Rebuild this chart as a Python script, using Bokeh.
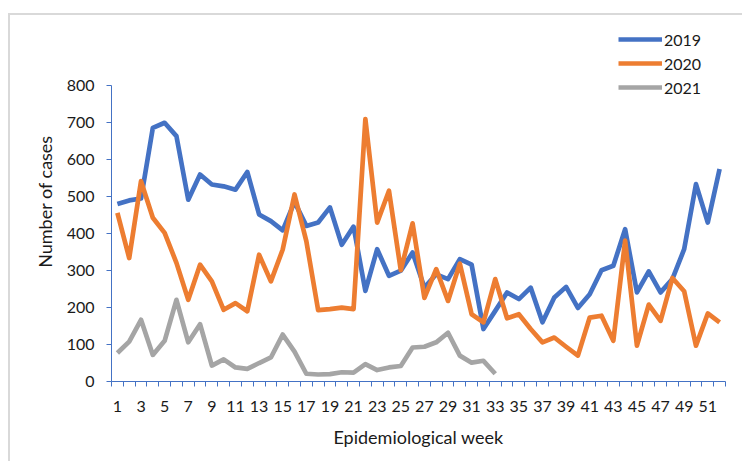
from bokeh.plotting import figure
from bokeh.models import FixedTicker, Legend, LegendItem
from bokeh.embed import file_html
from bokeh.resources import INLINE

weeks = list(range(1, 53))
weeks_2021 = list(range(1, 34))

cases_2019 = [480, 490, 495, 686, 700, 664, 492, 560, 533, 528,
              519, 567, 452, 434, 409, 486, 421, 430, 471, 370,
              419, 245, 358, 286, 300, 349, 254, 290, 277, 331,
              316, 142, 191, 241, 223, 254, 160, 227, 256, 199,
              236, 301, 313, 412, 241, 298, 241, 277, 358, 534,
              430, 575]
cases_2020 = [456, 334, 542, 443, 402, 321, 221, 316, 271, 194,
              212, 190, 343, 271, 357, 506, 380, 193, 196, 200,
              196, 710, 430, 516, 301, 428, 226, 304, 218, 319,
              182, 160, 277, 171, 182, 142, 106, 119, 94, 70,
              173, 178, 110, 381, 97, 208, 164, 280, 244, 97,
              184, 160]
cases_2021 = [77, 108, 167, 72, 110, 221, 106, 155, 43, 60,
              38, 34, 50, 65, 127, 81, 21, 19, 20, 25,
              24, 47, 31, 38, 42, 92, 94, 106, 132, 70,
              51, 56, 21]

series_names = ["2019", "2020", "2021"]
colors = ["#4472C4", "#ED7D31", "#A5A5A5"]
y_ticks = [0, 100, 200, 300, 400, 500, 600, 700, 800]
x_label_ticks = list(range(1, 53, 2))

FONT = "Lato"

# the frame extends above 800 so that the legend (above the axis top) is not clipped
p = figure(width=734, height=448, x_range=(0.5, 52.5), y_range=(0, 974),
           output_backend="svg", toolbar_location=None,
           min_border_left=101, min_border_right=19,
           min_border_top=6, min_border_bottom=82)
p.styles = {"margin-left": "8px", "margin-top": "13px",
            "border-top": "2px solid #d9d9d9",
            "border-left": "2px solid #d9d9d9"}
p.outline_line_color = None
p.xgrid.grid_line_color = None
p.ygrid.grid_line_color = None

r1 = p.line(weeks, cases_2019, line_color=colors[0], line_width=4.7, line_join="round")
r2 = p.line(weeks, cases_2020, line_color=colors[1], line_width=4.7, line_join="round")
r3 = p.line(weeks_2021, cases_2021, line_color=colors[2], line_width=4.7, line_join="round")

# x axis
xa = p.xaxis[0]
xa.ticker = FixedTicker(ticks=x_label_ticks,
                        minor_ticks=[w - 0.5 for w in weeks] + [52.5])
xa.axis_line_color = "#4472C4"
xa.axis_line_width = 1
xa.major_tick_line_color = None
xa.major_tick_out = 0
xa.major_tick_in = 0
xa.minor_tick_line_color = "#4472C4"
xa.minor_tick_out = 5
xa.minor_tick_in = 0
xa.major_label_standoff = 14
xa.major_label_text_font = FONT
xa.major_label_text_font_size = "16px"
xa.major_label_text_color = "#1a1a1a"
xa.axis_label = "Epidemiological week"
xa.axis_label_text_font = FONT
xa.axis_label_text_font_size = "18px"
xa.axis_label_text_font_style = "normal"
xa.axis_label_text_color = "#1a1a1a"
xa.axis_label_standoff = 11

# y axis
ya = p.yaxis[0]
ya.ticker = FixedTicker(ticks=y_ticks)
ya.bounds = (0, 800)
ya.axis_line_color = "#4472C4"
ya.major_tick_line_color = "#4472C4"
ya.major_tick_out = 5
ya.major_tick_in = 0
ya.minor_tick_line_color = None
ya.major_label_standoff = 12
ya.major_label_text_font = FONT
ya.major_label_text_font_size = "16px"
ya.major_label_text_color = "#1a1a1a"
ya.axis_label = "Number of cases"
ya.axis_label_text_font = FONT
ya.axis_label_text_font_size = "18px"
ya.axis_label_text_font_style = "normal"
ya.axis_label_text_color = "#1a1a1a"
ya.axis_label_standoff = 8

legend = Legend(items=[LegendItem(label=series_names[0], renderers=[r1]),
                       LegendItem(label=series_names[1], renderers=[r2]),
                       LegendItem(label=series_names[2], renderers=[r3])],
                location=(507, 282))
legend.border_line_color = None
legend.background_fill_alpha = 0
legend.padding = 0
legend.margin = 0
legend.spacing = 0
legend.glyph_width = 44
legend.glyph_height = 24
legend.label_height = 24
legend.label_standoff = 2
legend.label_text_font = FONT
legend.label_text_font_size = "16px"
legend.label_text_color = "#1a1a1a"
p.add_layout(legend, "center")

open("out.html", "w").write(file_html(p, INLINE))
